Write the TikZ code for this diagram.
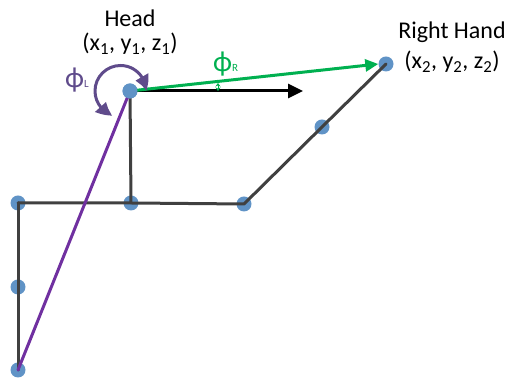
\documentclass[tikz,border=0pt]{standalone}
\usepackage{fontspec}
\setmainfont{Carlito}
\usetikzlibrary{arrows.meta, bending}
\definecolor{jointC}{HTML}{6093C6}
\definecolor{boneC}{HTML}{404040}
\definecolor{leftC}{HTML}{7030A0}
\definecolor{arcC}{HTML}{5F4B8B}
\definecolor{rightC}{HTML}{00B050}
\def\lwBone{3pt}
\def\lwRay{3pt}
\def\jointR{7.5pt}
\newcommand{\sbs}[1]{\textsubscript{#1}}
\newcommand{\angname}[1]{{\fontsize{29}{29}\selectfont\char"03D5}{\fontsize{11}{11}\selectfont #1}}

\begin{document}
\begin{tikzpicture}[x=1pt, y=1pt, line cap=round, line join=round,
  joint/.style={circle, fill=jointC, inner sep=0pt, minimum size=2*\jointR},
  bone/.style={boneC, line width=\lwBone},
  lbl/.style={font=\fontsize{24}{26}\selectfont, inner sep=0pt}]

  \useasboundingbox (0,0) rectangle (507,382);

  % Skeleton joints
  \coordinate (headC) at (130,291);
  \node[joint] (neck)   at (131,179) {};
  \node[joint] (lsh)    at (18,179)  {};
  \node[joint] (lelb)   at (18,95)   {};
  \node[joint] (lhand)  at (18,12)   {};
  \node[joint] (rsh)    at (244,178) {};
  \node[joint] (relb)   at (322,255) {};
  \node[joint] (rhand)  at (386,318) {};

  % Bones
  \draw[bone] (headC) -- (neck.center);
  \draw[bone] (lsh.center) -- (neck.center) -- (rsh.center) -- (relb.center) -- (rhand.center);
  \draw[bone] (lsh.center) -- (lelb.center) -- (lhand.center);
  \node[joint] (head) at (headC) {};

  % Left hand ray
  \draw[leftC, line width=\lwRay] (lhand.center) -- (head.center);

  % Forward axis and right hand ray
  \coordinate (fwd) at (303,291);
  \draw[black, line width=\lwRay, -{Triangle[length=15pt, width=14pt]}] (head.center) -- (fwd);
  \draw[rightC, line width=\lwRay, -{Triangle[length=13pt, width=12pt]}] (head.center) -- (rhand.west);
  \node[joint] at (head) {};

  % Angles
  \draw[arcC, line width=3pt, {Triangle[length=15pt, width=14pt, bend]}-{Triangle[length=15pt, width=14pt, bend]}]
    (146,291) arc[start angle=0, end angle=252, radius=25.5pt];
  \draw[rightC, line width=1pt, {Stealth[length=3.5pt, width=5pt]}-{Stealth[length=3.5pt, width=5pt]}]
    (218,299) -- (218,291);

  % Labels
  \node[lbl] (headT) at (130,364) {Head};
  \node[lbl] (headP) at (130,338) {(x\sbs{1}, y\sbs{1}, z\sbs{1})};
  \node[lbl] (rhT)   at (452,350) {Right Hand};
  \node[lbl] (rhP)   at (452,320) {(x\sbs{2}, y\sbs{2}, z\sbs{2})};
  \node[lbl, text=arcC, anchor=west]   (phiL) at (65,302) {\angname{L}};
  \node[lbl, text=rightC, anchor=west] (phiR) at (213,318) {\angname{R}};
\end{tikzpicture}
\end{document}
